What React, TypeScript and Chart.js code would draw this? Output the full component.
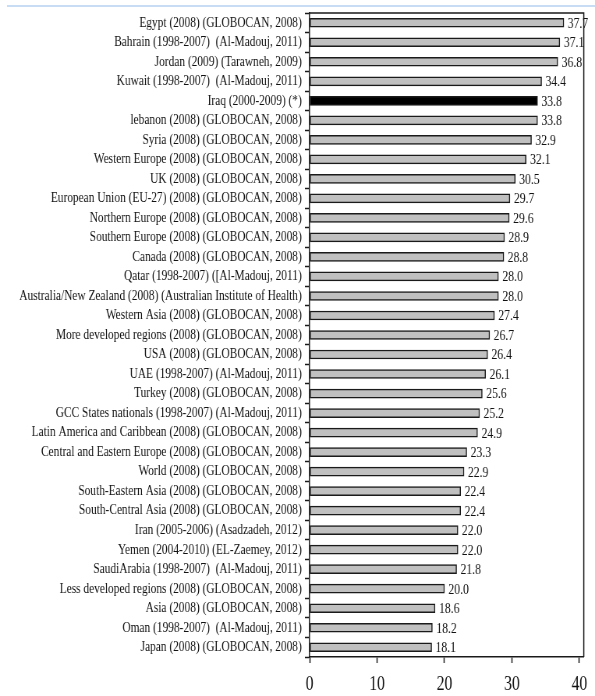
import React, { useEffect, useRef } from "react";
import { Chart, registerables } from "chart.js";

Chart.register(...registerables);

// Incidence per 100,000 by country / region (with source)
const categories: string[] = [
  "Egypt (2008) (GLOBOCAN, 2008)",
  "Bahrain (1998-2007)  (Al-Madouj, 2011)",
  "Jordan (2009) (Tarawneh, 2009)",
  "Kuwait (1998-2007)  (Al-Madouj, 2011)",
  "Iraq (2000-2009) (*)",
  "lebanon (2008) (GLOBOCAN, 2008)",
  "Syria (2008) (GLOBOCAN, 2008)",
  "Western Europe (2008) (GLOBOCAN, 2008)",
  "UK (2008) (GLOBOCAN, 2008)",
  "European Union (EU-27) (2008) (GLOBOCAN, 2008)",
  "Northern Europe (2008) (GLOBOCAN, 2008)",
  "Southern Europe (2008) (GLOBOCAN, 2008)",
  "Canada (2008) (GLOBOCAN, 2008)",
  "Qatar (1998-2007) ([Al-Madouj, 2011)",
  "Australia/New Zealand (2008) (Australian Institute of Health)",
  "Western Asia (2008) (GLOBOCAN, 2008)",
  "More developed regions (2008) (GLOBOCAN, 2008)",
  "USA (2008) (GLOBOCAN, 2008)",
  "UAE (1998-2007) (Al-Madouj, 2011)",
  "Turkey (2008) (GLOBOCAN, 2008)",
  "GCC States nationals (1998-2007) (Al-Madouj, 2011)",
  "Latin America and Caribbean (2008) (GLOBOCAN, 2008)",
  "Central and Eastern Europe (2008) (GLOBOCAN, 2008)",
  "World (2008) (GLOBOCAN, 2008)",
  "South-Eastern Asia (2008) (GLOBOCAN, 2008)",
  "South-Central Asia (2008) (GLOBOCAN, 2008)",
  "Iran (2005-2006) (Asadzadeh, 2012)",
  "Yemen (2004-2010) (EL-Zaemey, 2012)",
  "SaudiArabia (1998-2007)  (Al-Madouj, 2011)",
  "Less developed regions (2008) (GLOBOCAN, 2008)",
  "Asia (2008) (GLOBOCAN, 2008)",
  "Oman (1998-2007)  (Al-Madouj, 2011)",
  "Japan (2008) (GLOBOCAN, 2008)",
];

const rates: number[] = [
  37.7, 37.1, 36.8, 34.4, 33.8, 33.8, 32.9, 32.1, 30.5, 29.7, 29.6, 28.9,
  28.8, 28.0, 28.0, 27.4, 26.7, 26.4, 26.1, 25.6, 25.2, 24.9, 23.3, 22.9,
  22.4, 22.4, 22.0, 22.0, 21.8, 20.0, 18.6, 18.2, 18.1,
];

const highlighted = "Iraq (2000-2009) (*)";
const xTicks: number[] = [0, 10, 20, 30, 40];

// The figure is drawn wide and then squeezed horizontally
const SQUEEZE = 0.78;
const VIEW_W = 595;
const VIEW_H = 696;
const CANVAS_W = Math.round(VIEW_W / SQUEEZE);

const FONT = "'Liberation Serif', 'Times New Roman', serif";
const INK = "#1a1a1a";

const framePlugin = {
  id: "plotFrame",
  afterDatasetsDraw(chart: any) {
    const { ctx, chartArea } = chart;
    ctx.save();
    ctx.strokeStyle = INK;
    ctx.lineWidth = 1.5;
    ctx.beginPath();
    ctx.moveTo(chartArea.left, chartArea.top);
    ctx.lineTo(chartArea.right, chartArea.top);
    ctx.lineTo(chartArea.right, chartArea.bottom);
    ctx.stroke();
    ctx.restore();
  },
};

const valueLabelPlugin = {
  id: "valueLabels",
  afterDatasetsDraw(chart: any) {
    const { ctx } = chart;
    const meta = chart.getDatasetMeta(0);
    const data = chart.data.datasets[0].data as number[];
    ctx.save();
    ctx.font = `15px ${FONT}`;
    ctx.fillStyle = "#111";
    ctx.textAlign = "left";
    ctx.textBaseline = "middle";
    meta.data.forEach((bar: any, i: number) => {
      ctx.fillText(data[i].toFixed(1), bar.x + 5, bar.y + 1);
    });
    ctx.restore();
  },
};

export default function App() {
  const canvasRef = useRef<HTMLCanvasElement | null>(null);

  useEffect(() => {
    if (!canvasRef.current) return;
    const chart = new Chart(canvasRef.current, {
      type: "bar",
      data: {
        labels: categories,
        datasets: [
          {
            data: rates,
            backgroundColor: categories.map((c) =>
              c === highlighted ? "#000000" : "#c0c0c0"
            ),
            borderColor: INK,
            borderWidth: 1.5,
            borderSkipped: false,
            barThickness: 9,
          },
        ],
      },
      options: {
        indexAxis: "y",
        animation: false,
        responsive: false,
        devicePixelRatio: 1,
        layout: { padding: { top: 13, right: 1, left: 0, bottom: 0 } },
        plugins: {
          legend: { display: false },
          tooltip: { enabled: false },
        },
        scales: {
          x: {
            type: "linear",
            min: 0,
            max: 40.65,
            afterBuildTicks: (scale: any) => {
              scale.ticks = xTicks.map((v) => ({ value: v }));
            },
            afterFit: (scale: any) => {
              scale.height = 39;
            },
            grid: {
              drawOnChartArea: false,
              drawTicks: true,
              tickLength: 6,
              tickWidth: 1.5,
              color: INK,
            },
            border: { display: true, color: INK, width: 1.5 },
            ticks: {
              font: { family: FONT, size: 20 },
              color: "#111",
              padding: 10,
              maxRotation: 0,
            },
          },
          y: {
            type: "category",
            afterFit: (scale: any) => {
              scale.width = 397;
            },
            grid: {
              drawOnChartArea: false,
              drawTicks: true,
              tickLength: 6,
              tickWidth: 1.5,
              color: INK,
            },
            border: { display: true, color: INK, width: 1.5 },
            ticks: {
              font: { family: FONT, size: 14.6 },
              color: "#111",
              padding: 4,
              autoSkip: false,
            },
          },
        },
      },
      plugins: [framePlugin, valueLabelPlugin],
    });
    return () => chart.destroy();
  }, []);

  return (
    <div
      style={{
        position: "absolute",
        left: 0,
        top: 0,
        width: VIEW_W,
        height: VIEW_H,
        overflow: "hidden",
        background: "#ffffff",
      }}
    >
      <div
        style={{
          position: "absolute",
          left: 7,
          top: 5,
          width: VIEW_W - 7,
          height: 2,
          background: "#c8dcf3",
        }}
      />
      <canvas
        ref={canvasRef}
        width={CANVAS_W}
        height={VIEW_H}
        style={{
          position: "absolute",
          left: 0,
          top: 0,
          width: VIEW_W,
          height: VIEW_H,
        }}
      />
    </div>
  );
}
